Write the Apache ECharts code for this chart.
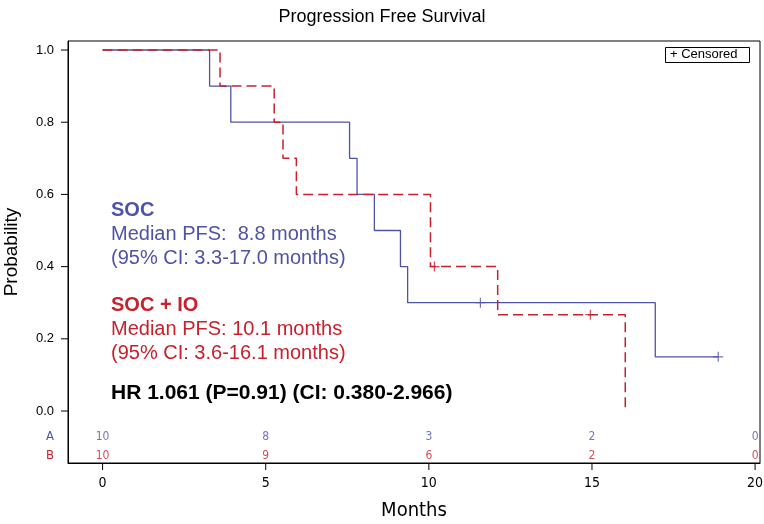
<!DOCTYPE html>
<html><head><meta charset="utf-8">
<script src="https://cdn.jsdelivr.net/npm/echarts@6/dist/echarts.min.js"></script>
<style>html,body{margin:0;padding:0;background:#fff}#c{width:764px;height:524px}</style>
</head><body><div id="c"></div>
<script>
// Kaplan-Meier step data
const socTimes = [0, 3.28, 3.93, 7.57, 7.80, 8.33, 9.13, 9.35, 16.94, 18.87];
const socProb  = [1.0, 0.9, 0.8, 0.7, 0.6, 0.5, 0.4, 0.3, 0.15, 0.15];
const socCensorTimes = [11.58, 18.87];
const socCensorProb  = [0.3, 0.15];

const ioTimes = [0, 3.6, 5.26, 5.53, 5.94, 10.05, 12.11, 16.02];
const ioProb  = [1.0, 0.9, 0.8, 0.7, 0.6, 0.4, 0.267, 0.0];
const ioCensorTimes = [10.17, 14.95];
const ioCensorProb  = [0.4, 0.267];

// Numbers at risk
const riskTimes = [0, 5, 10, 15, 20];
const riskA = [10, 8, 3, 2, 0];
const riskB = [10, 9, 6, 2, 0];

const xTicks = [0, 5, 10, 15, 20];
const yTicks = [0.0, 0.2, 0.4, 0.6, 0.8, 1.0];

const BLUE = '#4f53a6';
const RED = '#c8202c';
const NARROW = '"DejaVu Sans Condensed", "Liberation Sans", sans-serif';
const rowA = -0.072, rowB = -0.123;
const TICK = 7;

const pair = (xs, ys) => xs.map((x, i) => [x, ys[i]]);
const cross = 'path://M0,-5L0,5M-5,0L5,0';

const chart = echarts.init(document.getElementById('c'));
chart.setOption({
  animation: false,
  title: {
    text: 'Progression Free Survival', left: 'center', top: 3,
    textStyle: {fontFamily: 'Liberation Sans', fontSize: 18, fontWeight: 'normal', color: '#000'}
  },
  grid: {left: 68, right: 4, top: 41, bottom: 61, show: true, borderColor: '#000', borderWidth: 1,
         containLabel: false, outerBoundsMode: 'none'},
  xAxis: {
    type: 'value', min: -1.06, max: 20.15,
    name: 'Months', nameLocation: 'middle', nameGap: 38,
    nameTextStyle: {fontFamily: NARROW, fontSize: 20, color: '#000'},
    axisLine: {show: true, onZero: false, lineStyle: {color: '#000', width: 1}}, splitLine: {show: false},
    axisTick: {show: false},
    axisLabel: {customValues: xTicks, margin: 13, fontFamily: NARROW, fontSize: 14, color: '#000'}
  },
  yAxis: {
    type: 'value', min: -0.144, max: 1.025,
    name: 'Probability', nameLocation: 'middle', nameGap: 47,
    nameTextStyle: {fontFamily: 'Liberation Sans', fontSize: 19, color: '#000'},
    axisLine: {show: true, onZero: false, lineStyle: {color: '#000', width: 1}}, splitLine: {show: false},
    axisTick: {show: false},
    axisLabel: {
      customValues: [rowB, rowA].concat(yTicks), margin: 14,
      fontFamily: 'Liberation Sans', fontSize: 13, color: '#000',
      formatter: v => {
        if (Math.abs(v - rowA) < 1e-6) return '{a|A}';
        if (Math.abs(v - rowB) < 1e-6) return '{b|B}';
        return v.toFixed(1);
      },
      rich: {
        a: {color: BLUE, fontFamily: NARROW, fontSize: 13},
        b: {color: RED, fontFamily: NARROW, fontSize: 13}
      }
    }
  },
  series: [
    {type: 'line', step: 'end', data: pair(socTimes, socProb), symbol: 'none',
     lineStyle: {color: BLUE, width: 1.3}},
    {type: 'line', step: 'end', data: pair(ioTimes, ioProb), symbol: 'none',
     lineStyle: {color: RED, width: 1.5, type: [10, 5]}},
    {type: 'scatter', data: pair(socCensorTimes, socCensorProb), symbol: cross, symbolSize: 10,
     itemStyle: {color: 'rgba(0,0,0,0)', borderColor: BLUE, borderWidth: 1.2}},
    {type: 'scatter', data: pair(ioCensorTimes, ioCensorProb), symbol: cross, symbolSize: 10,
     itemStyle: {color: 'rgba(0,0,0,0)', borderColor: RED, borderWidth: 1.2}},
    {type: 'scatter', data: riskTimes.map((t, i) => [t, rowA, riskA[i]]), symbolSize: 0,
     label: {show: true, position: 'inside', formatter: p => String(p.data[2]), color: BLUE,
             fontFamily: NARROW, fontSize: 12}},
    {type: 'scatter', data: riskTimes.map((t, i) => [t, rowB, riskB[i]]), symbolSize: 0,
     label: {show: true, position: 'inside', formatter: p => String(p.data[2]), color: RED,
             fontFamily: NARROW, fontSize: 12}},
    // axis ticks outside the frame, placed through the axes' scales
    {type: 'custom', clip: false, silent: true, data: xTicks.map(v => [v, 0]),
     renderItem: (params, api) => {
       const cs = params.coordSys; const p = api.coord([api.value(0), 0]);
       const yb = cs.y + cs.height;
       return {type: 'line', shape: {x1: p[0], y1: yb, x2: p[0], y2: yb + TICK},
               style: {stroke: '#000', lineWidth: 1}};
     }},
    {type: 'custom', clip: false, silent: true, data: yTicks.map(v => [0, v]),
     renderItem: (params, api) => {
       const cs = params.coordSys; const p = api.coord([0, api.value(1)]);
       return {type: 'line', shape: {x1: cs.x - TICK, y1: p[1], x2: cs.x, y2: p[1]},
               style: {stroke: '#000', lineWidth: 1}};
     }}
  ],
  graphic: [
    {type: 'text', x: 111, y: 210, style: {text: 'SOC', fill: BLUE, font: 'bold 20px "Liberation Sans"', verticalAlign: 'middle'}},
    {type: 'text', x: 111, y: 234, style: {text: 'Median PFS:  8.8 months', fill: BLUE, font: '20px "Liberation Sans"', verticalAlign: 'middle'}},
    {type: 'text', x: 111, y: 258, style: {text: '(95% CI: 3.3-17.0 months)', fill: BLUE, font: '20px "Liberation Sans"', verticalAlign: 'middle'}},
    {type: 'text', x: 111, y: 305, style: {text: 'SOC + IO', fill: RED, font: 'bold 20px "Liberation Sans"', verticalAlign: 'middle'}},
    {type: 'text', x: 111, y: 329, style: {text: 'Median PFS: 10.1 months', fill: RED, font: '20px "Liberation Sans"', verticalAlign: 'middle'}},
    {type: 'text', x: 111, y: 353, style: {text: '(95% CI: 3.6-16.1 months)', fill: RED, font: '20px "Liberation Sans"', verticalAlign: 'middle'}},
    {type: 'text', x: 111, y: 393, style: {text: 'HR 1.061 (P=0.91) (CI: 0.380-2.966)', fill: '#000', font: 'bold 21px "Liberation Sans"', verticalAlign: 'middle'}},
    {type: 'rect', left: 665, top: 47, shape: {width: 84, height: 15}, style: {fill: '#fff', stroke: '#000', lineWidth: 1}},
    {type: 'text', left: 670, top: 48, style: {text: '+ Censored', fill: '#000', font: '13px "Liberation Sans"'}}
  ]
});
</script></body></html>
